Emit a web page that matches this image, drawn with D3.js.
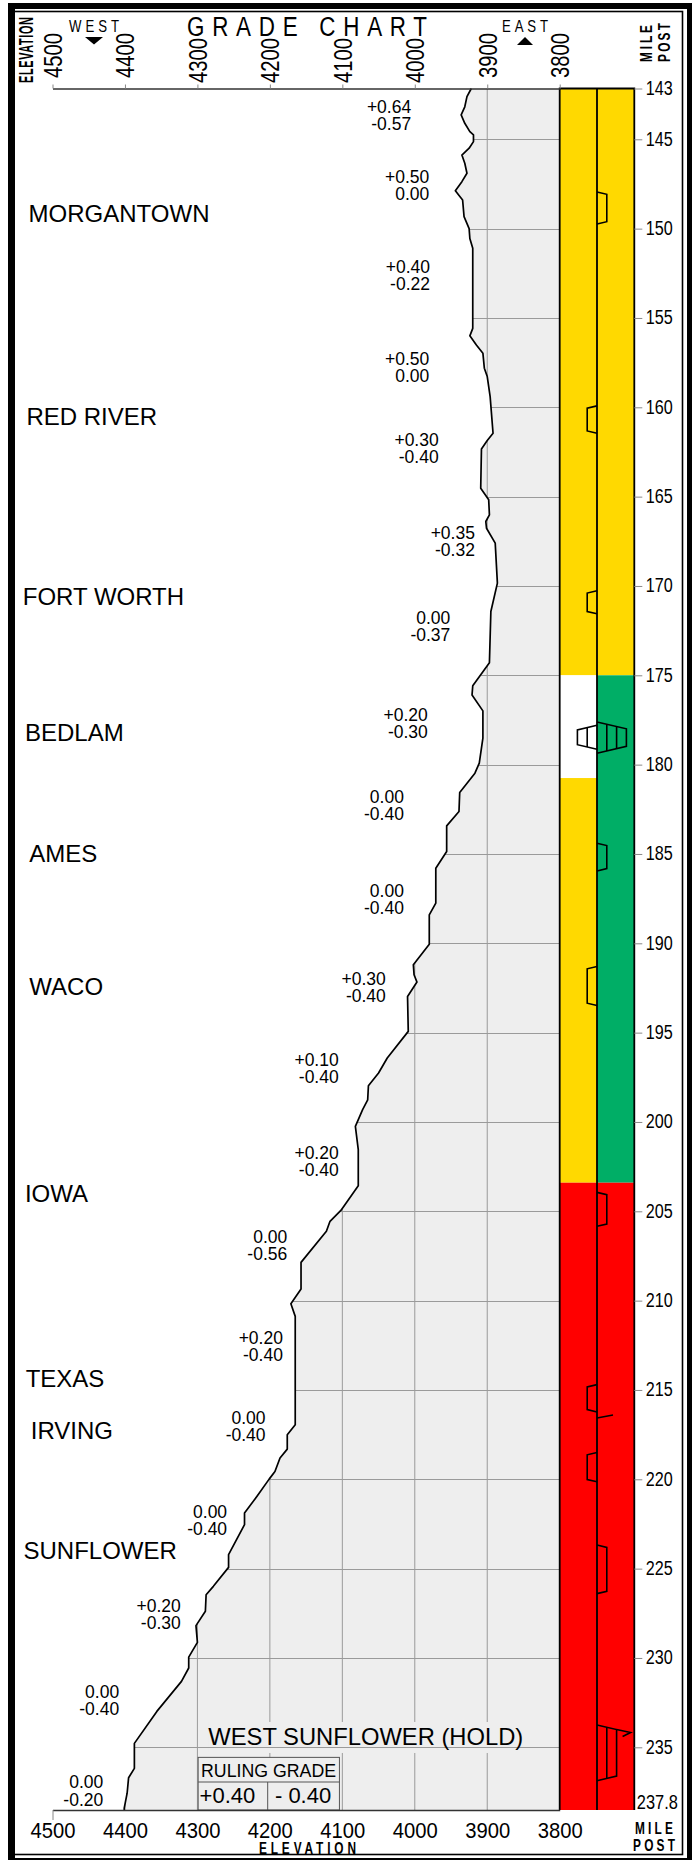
<!DOCTYPE html>
<html>
<head>
<meta charset="utf-8">
<title>Grade chart</title>
<script src="https://cdn.jsdelivr.net/npm/d3@7"></script>
<style>
    html, body { margin: 0; padding: 0; background: #fff; }
    svg { display: block; }
    text { font-family: "Liberation Sans", Arial, sans-serif; fill: #000; }
</style>
</head>
<body>
<div id="chart"></div>
<script>
'use strict';

var elevTicks = [4500, 4400, 4300, 4200, 4100, 4000, 3900, 3800];
var mileTicks = [143, 145, 150, 155, 160, 165, 170, 175, 180, 185, 190, 195, 200, 205, 210, 215, 220, 225, 230, 235, 237.8];

// Track profile.
var profileMile = [143, 143.32, 143.72, 144.04, 144.37, 144.7, 144.83, 145.13, 145.5, 145.88, 146.34, 146.9, 147.37, 147.88, 148.4, 149.33, 150, 150.55, 151.1, 155.58, 156, 156.51, 156.97, 157.81, 158.28, 159.4, 161.45, 161.86, 162.33, 164.53, 165.18, 166.02, 166.39, 166.77, 167.6, 169.84, 171.43, 174.3, 175.59, 176.1, 176.99, 178.52, 179.92, 180.48, 181.56, 182.62, 183.43, 184.86, 185.8, 187.75, 188.41, 190.05, 191.2, 191.76, 192.17, 192.98, 194.93, 196.42, 197.26, 197.97, 198.76, 199.31, 200.25, 201.55, 203.57, 204.95, 205.56, 206.12, 207.86, 209.35, 210.17, 210.88, 216.95, 217.51, 218.31, 218.81, 219.56, 219.99, 220.96, 221.89, 222.54, 224.22, 224.93, 225.99, 226.46, 227.39, 228.19, 229.13, 229.95, 230.56, 231.31, 232.99, 234.78, 235.94, 236.36, 237.05, 237.72, 237.8];
var profileElev = [3922, 3928, 3931, 3936, 3931, 3924, 3919, 3919, 3925, 3935, 3931, 3928, 3935, 3944, 3934, 3932, 3925, 3924, 3920, 3920, 3924, 3915, 3906, 3904, 3900, 3896, 3892, 3900, 3908, 3909, 3898, 3897, 3902, 3901, 3889, 3886, 3895, 3897, 3920, 3921, 3906, 3906, 3911, 3917, 3938, 3939, 3956, 3956, 3971, 3971, 3980, 3980, 4002, 4001, 3997, 4010, 4009, 4038, 4050, 4064, 4065, 4072, 4082, 4078, 4078, 4102, 4117, 4122, 4157, 4157, 4171, 4165, 4165, 4176, 4176, 4186, 4193, 4201, 4218, 4235, 4235, 4257, 4257, 4278, 4288, 4289, 4302, 4300, 4312, 4312, 4322, 4356, 4387, 4387, 4395, 4397, 4401, 4401];

// Grade pairs, anchored by the right edge of the text.
var gradeUp = ['+0.64', '+0.50', '+0.40', '+0.50', '+0.30', '+0.35', '0.00', '+0.20', '0.00', '0.00', '+0.30', '+0.10', '+0.20', '0.00', '+0.20', '0.00', '0.00', '+0.20', '0.00', '0.00'];
var gradeDown = ['-0.57', '0.00', '-0.22', '0.00', '-0.40', '-0.32', '-0.37', '-0.30', '-0.40', '-0.40', '-0.40', '-0.40', '-0.40', '-0.56', '-0.40', '-0.40', '-0.40', '-0.30', '-0.40', '-0.20'];
var gradeElev = [4005, 3980, 3979, 3980, 3967, 3917, 3951, 3982, 4015, 4015, 4040, 4105, 4105, 4176, 4182, 4206, 4259, 4323, 4408, 4430];
var gradeMile = [143.96, 147.43, 152.48, 157.63, 162.15, 167.35, 172.12, 177.55, 182.12, 187.4, 192.33, 196.84, 202.06, 206.76, 212.41, 216.89, 222.15, 227.4, 232.22, 236.82];

var cityNames = ['MORGANTOWN', 'RED RIVER', 'FORT WORTH', 'BEDLAM', 'AMES', 'WACO', 'IOWA', 'TEXAS', 'IRVING', 'SUNFLOWER'];
var cityElev = [4533, 4536, 4541, 4538, 4532, 4532, 4538, 4537, 4530, 4540];
var cityMile = [149.63, 160.99, 171.08, 178.68, 185.43, 192.87, 204.46, 214.82, 217.76, 224.45];

// Coloured blocks of the two signal tracks.
var trackLeftStart = [143, 175, 180.75, 203.4];
var trackLeftEnd = [175, 180.75, 203.4, 237.8];
var trackLeftColor = ['#ffd900', '#ffffff', '#ffd900', '#ff0000'];
var trackRightStart = [143, 175, 203.4];
var trackRightEnd = [175, 203.4, 237.8];
var trackRightColor = ['#ffd900', '#00ae66', '#ff0000'];

// Curves on the centre line. Side: 1 is right, -1 is left. Steps: degree of curve.
var curveStart = [147.95, 159.92, 170.27, 177.8, 177.61, 184.4, 191.3, 203.94, 214.7, 218.5, 223.68, 233.75];
var curveEnd = [149.74, 161.45, 171.56, 179.14, 179.36, 185.95, 193.48, 205.84, 216.23, 220.14, 226.4, 236.49];
var curveSide = [1, -1, -1, -1, 1, 1, -1, 1, -1, -1, 1, 1];
var curveSteps = [1, 1, 1, 2, 3, 1, 1, 1, 1, 1, 1, 2];

var rulingTitle = 'RULING GRADE';
var rulingUp = '+0.40';
var rulingDown = '- 0.40';

var width = 699,
    height = 1860,
    stepWidth = 9.8,
    stepLag = 2.3;

var x = d3.scaleLinear().domain([4500, 3800]).range([52.5, 559.7]);

// The printed mile scale is not even at both ends.
var y = d3.scaleLinear().domain([143, 145, 235, 237.8]).range([88.5, 139.3, 1747.3, 1810]);

var trackLeft = x(3800),
    trackMid = 597,
    trackRight = 634.3;

var svg = d3.select('#chart').append('svg')
    .attr('width', width)
    .attr('height', height);

// Frame.
svg.append('path')
    .attr('fill-rule', 'evenodd')
    .attr('fill', '#000')
    .attr('d', 'M8,3H692V1860H8Z M15,9V1858H687V9Z');

svg.append('rect')
    .attr('x', 14)
    .attr('y', 11.5)
    .attr('width', 668.5)
    .attr('height', 1843)
    .attr('fill', 'none')
    .attr('stroke', '#000')
    .attr('stroke-width', 1.6);

// Grey ground under the profile.
var area = d3.area()
    .x0(x(3800))
    .x1(function (d, i) {
        return x(profileElev[i]);
    })
    .y(function (d) {
        return y(d);
    });

svg.append('clipPath')
    .attr('id', 'ground')
    .append('path')
    .attr('d', area(profileMile));

svg.append('path')
    .attr('fill', '#eeeeee')
    .attr('d', area(profileMile));

var grid = svg.append('g')
    .attr('clip-path', 'url(#ground)')
    .attr('stroke', '#9a9a9a')
    .attr('stroke-width', 1);

grid.selectAll('.v')
    .data(elevTicks)
    .enter().append('line')
    .attr('class', 'v')
    .attr('x1', function (d) { return x(d); })
    .attr('x2', function (d) { return x(d); })
    .attr('y1', y(143))
    .attr('y2', y(237.8));

// Station title sits in a gap of the vertical grid lines.
var holdText = svg.append('text')
    .attr('x', x(4285))
    .attr('y', y(234.87))
    .attr('textLength', 315)
    .attr('lengthAdjust', 'spacingAndGlyphs')
    .style('font-size', '24px')
    .text('WEST SUNFLOWER (HOLD)');

var holdBox = holdText.node().getBBox();

svg.insert('rect', 'text')
    .attr('x', holdBox.x)
    .attr('y', holdBox.y - 1)
    .attr('width', holdBox.width)
    .attr('height', holdBox.height + 4)
    .attr('fill', '#eeeeee');

svg.insert('g', 'text')
    .attr('clip-path', 'url(#ground)')
    .attr('stroke', '#9a9a9a')
    .selectAll('line')
    .data(mileTicks.slice(1, -1))
    .enter().append('line')
    .attr('x1', x(4500))
    .attr('x2', x(3800))
    .attr('y1', function (d) { return Math.round(y(d)) + 0.5; })
    .attr('y2', function (d) { return Math.round(y(d)) + 0.5; });

// Ruling grade box.
var ruling = svg.append('g');

ruling.append('rect')
    .attr('x', x(4299))
    .attr('y', y(235.45))
    .attr('width', x(4104) - x(4299))
    .attr('height', y(237.8) - y(235.45))
    .attr('fill', '#eeeeee')
    .attr('stroke', '#555');

ruling.append('path')
    .attr('fill', 'none')
    .attr('stroke', '#555')
    .attr('d', 'M' + x(4299) + ',' + y(236.55) + 'H' + x(4104) + 'M' + x(4203) + ',' + y(236.55) + 'V' + y(237.8));

ruling.append('text')
    .attr('x', x(4295))
    .attr('y', y(235.45) + 20)
    .attr('textLength', 135)
    .attr('lengthAdjust', 'spacingAndGlyphs')
    .style('font-size', '17.5px')
    .text(rulingTitle);

ruling.append('text')
    .attr('x', x(4297))
    .attr('y', y(237.8) - 7)
    .style('font-size', '22px')
    .text(rulingUp);

ruling.append('text')
    .attr('x', x(4193))
    .attr('y', y(237.8) - 7)
    .style('font-size', '22px')
    .text(rulingDown);

// Signal tracks.
function drawTrack(starts, ends, colors, left, right) {
    svg.append('g').selectAll('rect')
        .data(starts)
        .enter().append('rect')
        .attr('x', left)
        .attr('width', right - left)
        .attr('y', function (d) { return y(d); })
        .attr('height', function (d, i) { return y(ends[i]) - y(d); })
        .attr('fill', function (d, i) { return colors[i]; });
}

drawTrack(trackLeftStart, trackLeftEnd, trackLeftColor, trackLeft, trackMid);
drawTrack(trackRightStart, trackRightEnd, trackRightColor, trackMid, trackRight);

svg.append('path')
    .attr('fill', 'none')
    .attr('stroke', '#000')
    .attr('stroke-width', 1.8)
    .attr('d', 'M' + trackLeft + ',' + y(237.8) + 'V' + y(143) + 'H' + trackRight + 'V' + y(237.8)
        + 'M' + trackMid + ',' + y(143) + 'V' + y(237.8));

// Curves on the centre line.
var curves = svg.append('g')
    .attr('fill', 'none')
    .attr('stroke', '#000')
    .attr('stroke-width', 1.6);

curveStart.forEach(function (start, i) {
    var end = curveEnd[i],
        side = curveSide[i],
        steps = curveSteps[i],
        top = y(start),
        bottom = y(end),
        s;

    curves.append('path').attr('d', 'M' + trackMid + ',' + top
        + 'L' + (trackMid + side * steps * stepWidth) + ',' + (top + steps * stepLag)
        + 'V' + (bottom - steps * stepLag)
        + 'L' + trackMid + ',' + bottom);

    for (s = 1; s < steps; s++) {
        curves.append('path').attr('d', 'M' + (trackMid + side * s * stepWidth) + ',' + (top + s * stepLag)
            + 'V' + (bottom - s * stepLag));
    }
});

// The two short spurs off the centre line.
curves.append('path')
    .attr('d', 'M' + trackMid + ',' + y(216.57) + 'l16,-3');

curves.append('path')
    .attr('d', 'M' + (trackMid + 2 * stepWidth) + ',' + (y(233.75) + 4.5) + 'l14,3 l-8,4');

// Profile line.
svg.append('path')
    .attr('fill', 'none')
    .attr('stroke', '#000')
    .attr('stroke-width', 1.7)
    .attr('stroke-linejoin', 'round')
    .attr('d', d3.line()
        .x(function (d, i) { return x(profileElev[i]); })
        .y(function (d) { return y(d); })(profileMile));

// Axes.
var axisTop = svg.append('g')
    .attr('transform', 'translate(0,' + y(143) + ')')
    .call(d3.axisTop(x).tickValues(elevTicks).tickSize(4).tickSizeOuter(0).tickFormat(d3.format('d')));

axisTop.selectAll('text')
    .attr('transform', function (d) {
        var low = d === 4300 || d === 4200 || d === 4100 || d === 4000;

        return 'translate(0,' + ((low ? 83 : 78) - y(143)) + ') rotate(-90)';
    })
    .attr('x', 0)
    .attr('y', 9)
    .attr('dy', 0)
    .attr('text-anchor', 'start')
    .attr('textLength', 45)
    .attr('lengthAdjust', 'spacingAndGlyphs')
    .style('font-size', '25px')
    .style('font-family', '"Liberation Sans", Arial, sans-serif');

var axisBottom = svg.append('g')
    .attr('transform', 'translate(0,' + y(237.8) + ')')
    .call(d3.axisBottom(x).tickValues(elevTicks).tickSize(0).tickFormat(d3.format('d')));

axisBottom.selectAll('text')
    .attr('y', 28)
    .attr('dy', 0)
    .attr('textLength', 45)
    .attr('lengthAdjust', 'spacingAndGlyphs')
    .style('font-size', '22px')
    .style('font-family', '"Liberation Sans", Arial, sans-serif');

axisBottom.selectAll('line')
    .filter(function (d) { return d === 4500; })
    .attr('y2', 10);

var axisRight = svg.append('g')
    .attr('transform', 'translate(' + trackRight + ',0)')
    .call(d3.axisRight(y).tickValues(mileTicks).tickSize(8).tickSizeOuter(0).tickFormat(function (d) { return d; }));

axisRight.select('.domain').remove();

axisRight.selectAll('.tick').filter(function (d) { return d === 237.8; }).select('line').remove();

axisRight.selectAll('text')
    .attr('x', function (d) { return d === 237.8 ? 2.5 : 11.5; })
    .attr('y', function (d) { return d === 237.8 ? -2 : 6; })
    .attr('dy', 0)
    .attr('text-anchor', 'start')
    .attr('textLength', function (d) { return d === 237.8 ? 41 : 27; })
    .attr('lengthAdjust', 'spacingAndGlyphs')
    .style('font-size', '20.5px')
    .style('font-family', '"Liberation Sans", Arial, sans-serif');

svg.selectAll('.domain').attr('stroke', '#333').attr('stroke-width', 1.5);
svg.selectAll('.tick line').attr('stroke', '#888');

// Grade labels and station names.
var grades = svg.append('g')
    .attr('text-anchor', 'end')
    .style('font-size', '17.5px');

gradeUp.forEach(function (up, i) {
    var gx = x(gradeElev[i]),
        gy = y(gradeMile[i]);

    grades.append('text').attr('x', gx).attr('y', gy).text(up);
    grades.append('text').attr('x', gx).attr('y', gy + 17.5).text(gradeDown[i]);
});

svg.append('g').selectAll('text')
    .data(cityNames)
    .enter().append('text')
    .attr('x', function (d, i) { return x(cityElev[i]); })
    .attr('y', function (d, i) { return y(cityMile[i]); })
    .style('font-size', '24px')
    .text(function (d) { return d; });

// Headings: squeezed letters with wide spacing, as on the printed chart.
function heading(label, px, py, length, size, squeeze, bold, rotate) {
    svg.append('text')
        .attr('transform', 'translate(' + px + ',' + py + ')' + (rotate ? ' rotate(-90)' : '') + ' scale(' + squeeze + ',1)')
        .attr('textLength', length / squeeze)
        .attr('lengthAdjust', 'spacing')
        .style('font-size', size + 'px')
        .style('font-weight', bold ? 'bold' : 'normal')
        .text(label);
}

heading('GRADE CHART', 187, 36, 240, 28, 0.8, false, false);
heading('WEST', 69, 32, 50, 16.5, 0.8, false, false);
heading('EAST', 502, 32, 46, 16.5, 0.8, false, false);
heading('ELEVATION', 33, 83, 66, 19.5, 0.56, true, true);
heading('MILE', 652, 62, 37, 16.5, 0.72, true, true);
heading('POST', 670, 62, 39, 16.5, 0.72, true, true);
heading('MILE', 635, 1834, 38, 16.5, 0.72, true, false);
heading('POST', 633, 1851, 42, 16.5, 0.72, true, false);
heading('ELEVATION', 259, 1854, 97, 16.5, 0.72, true, false);

svg.append('path')
    .attr('fill', '#000')
    .attr('d', 'M85,37H103L94,44.5Z M517,45H533L525,37Z');
</script>
</body>
</html>
